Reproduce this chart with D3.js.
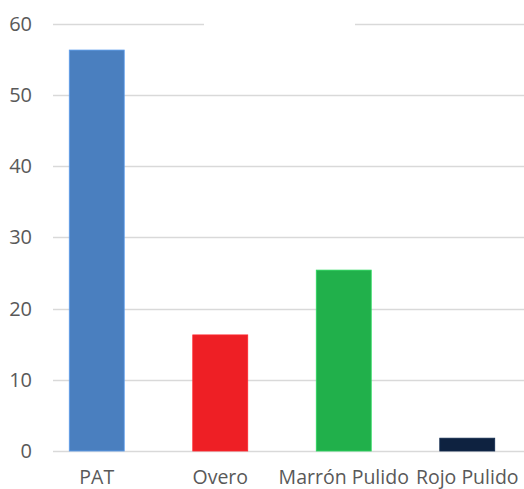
<!DOCTYPE html>
<html>
<head>
<meta charset="utf-8">
<script src="https://cdn.jsdelivr.net/npm/d3@7"></script>
<style>
  html, body { margin: 0; padding: 0; background: #fff; }
  svg { display: block; }
</style>
</head>
<body>
<script>
// Chart data
const categories = ["PAT", "Overo", "Marrón Pulido", "Rojo Pulido"];
const values = [56.3, 16.3, 25.4, 1.8];
const barColors = ["#4a7fbf", "#ee1f25", "#21b04b", "#0e2240"];
const yTicks = [0, 10, 20, 30, 40, 50, 60];

const W = 524, H = 489;
const font = "'Open Sans', sans-serif";
const textColor = "#595959";

const svg = d3.select("body").append("svg")
  .attr("width", W).attr("height", H);

const y = d3.scaleLinear().domain([0, 60]).range([451, 23.7]);
const x = d3.scaleBand().domain(categories)
  .range([35, 529]).paddingInner(0.555).paddingOuter(0.2775);

const plotLeft = 53, plotRight = W;

// Horizontal gridlines
svg.append("g").selectAll("line").data(yTicks).join("line")
  .attr("x1", plotLeft).attr("x2", plotRight)
  .attr("y1", d => Math.round(y(d)) + 0.5).attr("y2", d => Math.round(y(d)) + 0.5)
  .attr("stroke", "#d9d9d9").attr("stroke-width", 1.6);

// Blank title area sitting over the top gridline
svg.append("rect")
  .attr("x", 204).attr("y", 10).attr("width", 151).attr("height", 25)
  .attr("fill", "#fff");

// Y tick labels
svg.append("g").selectAll("text").data(yTicks).join("text")
  .attr("x", 32).attr("y", d => y(d))
  .attr("dy", "0.35em")
  .attr("text-anchor", "end")
  .attr("font-family", font).attr("font-size", 20)
  .attr("fill", textColor)
  .text(d => d);

// Bars
svg.append("g").selectAll("rect").data(categories).join("rect")
  .attr("x", d => x(d))
  .attr("y", (d, i) => y(values[i]))
  .attr("width", x.bandwidth())
  .attr("height", (d, i) => y(0) - y(values[i]))
  .attr("fill", (d, i) => barColors[i])
  .attr("stroke", (d, i) => d3.color(barColors[i]).brighter(0.6))
  .attr("stroke-width", 0.8);

// Category labels
svg.append("g").selectAll("text").data(categories).join("text")
  .attr("x", d => x(d) + x.bandwidth() / 2)
  .attr("y", 483.5)
  .attr("text-anchor", "middle")
  .attr("font-family", font).attr("font-size", 19.5)
  .attr("fill", textColor)
  .text(d => d);
</script>
</body>
</html>
